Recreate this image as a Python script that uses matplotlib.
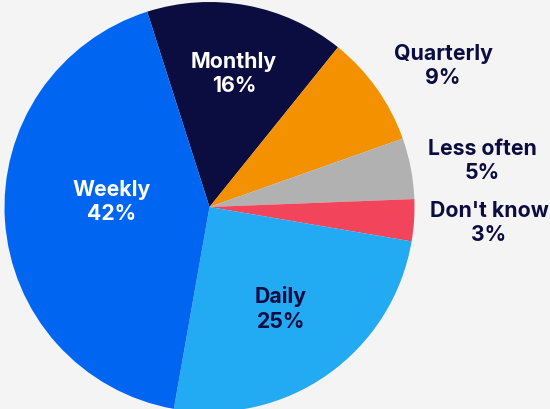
import matplotlib.pyplot as plt

labels = ["Monthly", "Quarterly", "Less often", "Don't know", "Daily", "Weekly"]
# wedge sizes, labels show the rounded figures
shares = [15.7, 8.8, 4.8, 3.3, 25.1, 42.3]
pct_labels = [16, 9, 5, 3, 25, 42]
colors = ["#0b0c40", "#f39100", "#b1b1b1", "#f2445b", "#22aaf2", "#0066f2"]
text_colors = ["white", "#0b0c40", "#0b0c40", "#0b0c40", "#0b0c40", "white"]

# label positions in pixels (x, y from top)
label_pos = [(234, 74), (443, 66), (482, 161), (489, 223), (281, 309), (112, 202)]

bg = "#f4f4f4"
fig = plt.figure(figsize=(5.5, 4.09), dpi=100, facecolor=bg)
ax = fig.add_axes([0, 0, 1, 1])
ax.set_facecolor(bg)

ax.pie(shares, colors=colors, startangle=107.7, counterclock=False,
       center=(209.5, 202), radius=205, frame=True,
       wedgeprops=dict(linewidth=0))
ax.set_xlim(0, 550)
ax.set_ylim(0, 409)
ax.set_aspect("equal")
ax.axis("off")

for lab, p, (x, y), tc in zip(labels, pct_labels, label_pos, text_colors):
    ax.text(x, 409 - y, f"{lab}\n{p}%", ha="center", va="center",
            color=tc, fontsize=15.3, fontweight="bold", family="Inter",
            linespacing=1.28)

fig.savefig("out.png", dpi=100, facecolor=bg)
